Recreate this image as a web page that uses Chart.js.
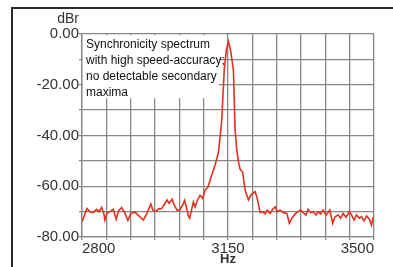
<!DOCTYPE html>
<html><head><meta charset="utf-8">
<script src="https://cdn.jsdelivr.net/npm/chart.js@4.4.1/dist/chart.umd.min.js"></script>
<style>
html,body{margin:0;padding:0;background:#fff;width:393px;height:267px;overflow:hidden;}
#wrap{position:relative;width:393px;height:267px;}
#frame{position:absolute;left:11px;top:7px;right:0;bottom:0;border-left:2px solid #2b2b2b;border-top:2px solid #2b2b2b;}
canvas{position:absolute;left:0;top:0;}
</style></head>
<body><div id="wrap"><div id="frame"></div><canvas id="c" width="393" height="267"></canvas></div>
<script>
// Frequency (Hz) and level (dBr)
const freqHz = [2800,2812,2819,2826,2835,2841,2847,2852,2855,2860,2867,2875,2882,2888,2895,2902,2910,2917,2927,2934,2943,2947,2955,2965,2970,2977,2983,2991,2999,3004,3009,3016,3021,3028,3034,3040,3046,3050,3055,3058,3063,3067,3071,3077,3083,3089,3095,3102,3111,3119,3127,3131,3135,3141,3146,3151,3156,3163,3167,3171,3175,3179,3185,3191,3199,3205,3215,3220,3227,3233,3239,3244,3251,3257,3263,3268,3275,3283,3291,3297,3303,3311,3318,3324,3330,3337,3342,3348,3354,3361,3366,3372,3378,3385,3390,3394,3401,3406,3414,3420,3426,3433,3441,3446,3452,3458,3465,3470,3476,3482,3489,3494,3498];
const levelDbr = [-74.0,-68.8,-70.1,-70.4,-69.1,-70.0,-68.3,-70.5,-73.3,-70.5,-70.0,-69.1,-73.0,-69.6,-68.4,-70.3,-73.5,-70.7,-70.2,-71.3,-72.7,-73.3,-71.0,-67.0,-69.4,-69.9,-69.0,-68.8,-66.7,-65.4,-66.7,-65.1,-67.4,-69.4,-69.4,-67.8,-65.6,-68.1,-71.7,-72.6,-69.0,-66.2,-68.2,-65.4,-63.6,-64.7,-61.5,-60.3,-55.6,-51.6,-46.7,-40.6,-33.9,-14.2,-6.3,-3.0,-6.3,-14.2,-37.8,-45.7,-50.3,-53.3,-54.3,-61.5,-65.4,-63.4,-62.1,-64.7,-70.4,-70.0,-70.9,-69.4,-70.7,-69.1,-68.1,-70.0,-69.4,-70.4,-70.7,-74.6,-72.6,-70.9,-70.0,-69.4,-70.4,-71.3,-69.1,-70.4,-70.0,-71.3,-70.0,-70.9,-69.4,-71.3,-70.4,-69.4,-74.6,-72.2,-71.3,-72.6,-70.7,-72.2,-70.0,-71.3,-73.3,-71.3,-72.6,-72.0,-73.6,-71.7,-73.0,-75.3,-72.2];
const xLabelTicks = [2800, 3150, 3500];
const yLabelTicks = [0, -20, -40, -60, -80];
const xUnit = 'Hz';
const yUnit = 'dBr';
const noteLines = ['Synchronicity spectrum','with high speed-accuracy;','no detectable secondary','maxima'];

const X_MIN = 2800, X_MAX = 3500, X_STEP = 350/6;
const Y_MIN = -80, Y_MAX = 0, Y_STEP = 10;
const NOTE_RIGHT_HZ = 3128, NOTE_BOTTOM_DBR = -25.3;
const FONT = '"Liberation Sans", Arial, sans-serif';
const GRID = '#868686';

const deco = {
  id: 'deco',
  beforeDatasetsDraw(chart) {
    const {ctx, chartArea: a, scales: {x, y}} = chart;
    const r = x.getPixelForValue(NOTE_RIGHT_HZ), b = y.getPixelForValue(NOTE_BOTTOM_DBR);
    ctx.save();
    ctx.fillStyle = '#fff';
    ctx.fillRect(a.left + 1, a.top + 1, r - a.left - 1, b - a.top - 1);
    ctx.fillStyle = '#111';
    ctx.font = '12px ' + FONT;
    ctx.textAlign = 'left';
    ctx.textBaseline = 'middle';
    noteLines.forEach((t, i) => ctx.fillText(t, a.left + 4, a.top + 11 + i * 16));
    ctx.restore();
  },
  afterDraw(chart) {
    const {ctx, chartArea: a} = chart;
    ctx.save();
    ctx.fillStyle = '#333';
    ctx.font = '14px ' + FONT;
    ctx.textAlign = 'right';
    ctx.textBaseline = 'middle';
    ctx.fillText(yUnit, a.left - 3, a.top - 15);
    ctx.restore();
  }
};

new Chart(document.getElementById('c'), {
  type: 'line',
  data: {
    datasets: [{
      data: freqHz.map((f, i) => ({x: f, y: levelDbr[i]})),
      borderColor: '#e0321f',
      borderWidth: 1.6,
      pointRadius: 0,
      tension: 0,
      fill: false
    }]
  },
  options: {
    responsive: false,
    devicePixelRatio: 1,
    animation: false,
    layout: {padding: {top: 34, right: 19, left: 0, bottom: 0}},
    plugins: {legend: {display: false}, tooltip: {enabled: false}},
    scales: {
      x: {
        type: 'linear', min: X_MIN, max: X_MAX,
        afterBuildTicks(s) {
          const t = [];
          for (let k = 0; k <= 12; k++) t.push({value: X_MIN + k * X_STEP});
          s.ticks = t;
        },
        afterFit(s) { s.height = 30; },
        ticks: {
          maxRotation: 0, autoSkip: false, align: 'inner', padding: 0,
          color: '#333', font: {family: FONT, size: 15},
          callback(v) { const m = xLabelTicks.find(l => Math.abs(l - v) < 0.5); return m !== undefined ? String(m) : ''; }
        },
        grid: {color: GRID, lineWidth: 1.3, tickLength: 3},
        border: {color: GRID, width: 1.3},
        title: {display: true, text: xUnit, color: '#333', font: {family: FONT, size: 13, weight: 'bold', lineHeight: 1.2}, padding: {top: 0, bottom: 0}}
      },
      y: {
        type: 'linear', min: Y_MIN, max: Y_MAX,
        ticks: {
          stepSize: Y_STEP, autoSkip: false, padding: 0,
          color: '#333', font: {family: FONT, size: 15},
          callback(v) { return yLabelTicks.includes(v) ? v.toFixed(2) : ''; }
        },
        afterFit(s) { s.width = 82; },
        grid: {color: GRID, lineWidth: 1.3, tickLength: 3},
        border: {color: GRID, width: 1.3}
      }
    }
  },
  plugins: [deco]
});
</script></body></html>
